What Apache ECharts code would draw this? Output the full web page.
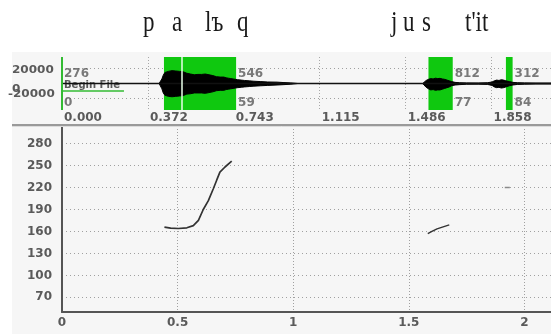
<!DOCTYPE html>
<html><head><meta charset="utf-8">
<script src="https://cdn.jsdelivr.net/npm/echarts@6/dist/echarts.min.js"></script>
<style>html,body{margin:0;padding:0;background:#fff}#c{width:551px;height:334px}</style>
</head><body><div id="c"></div>
<script>
// ---- data ----
const phonLabels = ['p', 'a', 'lъ', 'q', 'j', 'u', 's', "t'it"];
const waveTickValues = [0, 0.3716, 0.7432, 1.1148, 1.4864, 1.858];
const waveTickLabels = ['0.000', '0.372', '0.743', '1.115', '1.486', '1.858'];
const ampTickValues = [-20000, 0, 20000];
const ampTickLabels = ['-20000', '0', '20000'];
const regionStart = [0.441, 1.585, 1.920];
const regionEnd = [0.753, 1.690, 1.949];
const regionDivider = [0.523];
const markTimes = [0, 0.753, 1.690, 1.949];
const markTop = ['276', '546', '812', '312'];
const markBottom = ['0', '59', '77', '84'];
const waveT = [0, 0.42, 0.425, 0.432, 0.438, 0.445, 0.452,
  0.46, 0.468, 0.476, 0.484, 0.492, 0.5, 0.508, 0.516, 0.524, 0.532, 0.54, 0.548, 0.556, 0.564, 0.572, 0.58, 0.588, 0.596, 0.604, 0.612, 0.62, 0.628, 0.636, 0.644, 0.652, 0.66, 0.668, 0.676, 0.684, 0.692, 0.7,
  0.71, 0.72, 0.73, 0.74, 0.75, 0.76, 0.775, 0.79, 0.81, 0.83, 0.86, 0.89, 0.93, 0.96, 0.99, 1.02,
  1.56, 1.566, 1.575, 1.585, 1.595, 1.605, 1.615, 1.625, 1.635, 1.645, 1.655, 1.665, 1.675, 1.685, 1.7, 1.72, 1.75, 1.8, 1.84, 1.86, 1.87, 1.88, 1.89, 1.9, 1.91, 1.92, 1.935, 1.95, 1.97, 2.0, 2.05, 2.115];
const waveHi = [0, 0, 1500, 6000, 11000, 14500, 13000,
  16000, 15000, 17000, 15500, 16500, 14500, 16000, 15000, 15500, 14000, 13500, 12000, 12500, 11000, 11500, 10500, 12000, 13000, 12000, 13500, 12500, 13000, 11500, 12000, 10500, 10000, 9000, 9500, 8500, 8000, 8500,
  7500, 7000, 6500, 6000, 5500, 5000, 4500, 4000, 3500, 3000, 2500, 2000, 1800, 1200, 800, 0,
  0, 1500, 4000, 5500, 6500, 6000, 7000, 6500, 6800, 6000, 5500, 4500, 3500, 2500, 1500, 1000, 800, 700, 1000, 2000, 3500, 4500, 4000, 5000, 4500, 3500, 2500, 1500, 1000, 800, 600, 600];
const waveLo = [0, 0, -1500, -7000, -12500, -15500, -14000,
  -17000, -16000, -17500, -16500, -17000, -15500, -16500, -15500, -16000, -15000, -14000, -13000, -13500, -12000, -12500, -11500, -12500, -13500, -12500, -14000, -13000, -13500, -12000, -12500, -11000, -10500, -9500, -10000, -9000, -8500, -9000,
  -8000, -7500, -7000, -6500, -6000, -5500, -5000, -4500, -4000, -3500, -3000, -2500, -2000, -1500, -900, 0,
  0, -2000, -5000, -7000, -8500, -8000, -9000, -8500, -8500, -7500, -6500, -5500, -4500, -3000, -2000, -1500, -1000, -900, -1200, -2500, -4500, -5500, -5000, -6000, -5500, -4500, -3000, -2000, -1200, -900, -700, -700];
const timeTicks = [0, 0.5, 1, 1.5, 2];
const timeTickLabels = ['0', '0.5', '1', '1.5', '2'];
const hzTicks = [70, 100, 130, 160, 190, 220, 250, 280];
const pitch1T = [0.443, 0.47, 0.503, 0.54, 0.568, 0.59, 0.611, 0.633, 0.654, 0.669, 0.683, 0.705, 0.734];
const pitch1Hz = [166, 164.5, 164, 165, 168, 175, 190, 202, 218, 230, 241, 248, 256];
const pitch2T = [1.582, 1.6, 1.622, 1.645, 1.675];
const pitch2Hz = [157, 160, 163.5, 166, 169];
const pitch3T = [1.915, 1.937];
const pitch3Hz = [220, 220];

// ---- helpers ----
const zip = (a, b) => a.map((v, i) => [v, b[i]]);
const nearestIdx = (arr, v) => { let b = 0; arr.forEach((x, i) => { if (Math.abs(x - v) < Math.abs(arr[b] - v)) b = i; }); return b; };
const FONT = 'DejaVu Sans';
const LBL = '#5a5a5a';
const TMAX = 2.115;
const lbl = { fontFamily: FONT, fontSize: 12, fontWeight: 'bold', color: LBL };

const phonX = [143, 172, 205, 237, 391, 403, 422, 465];
const graphic = [
  { type: 'rect', z: 0, shape: { x: 12, y: 52, width: 539, height: 282 }, style: { fill: '#f6f6f6' } },
  { type: 'line', z: 1, shape: { x1: 12, y1: 125, x2: 551, y2: 125 }, style: { stroke: '#9a9a9a', lineWidth: 2 } },
  { type: 'line', z: 1, shape: { x1: 12, y1: 126.5, x2: 551, y2: 126.5 }, style: { stroke: '#dcdcdc', lineWidth: 1 } },
  { type: 'text', z: 1, x: 64, y: 85, style: { text: 'Begin File', font: 'bold 10px "DejaVu Sans"', fill: '#5a5a5a', verticalAlign: 'middle' } }
];
phonLabels.forEach((t, i) => {
  graphic.push({ type: 'text', z: 5, x: phonX[i], y: 23, scaleY: 1.3,
    style: { text: t, font: '23px "Liberation Serif"', fill: '#1a1a1a', verticalAlign: 'middle' } });
});

const markData = [];
markTimes.forEach((t, i) => {
  markData.push({ value: [t, 12500], label: { formatter: markTop[i] } });
  markData.push({ value: [t, -25700], label: { formatter: markBottom[i] } });
});

const option = {
  animation: false,
  backgroundColor: '#ffffff',
  graphic: graphic,
  grid: [
    { left: 62, right: 0, top: 57, height: 53 },
    { left: 62, right: 0, top: 126, height: 186 }
  ],
  xAxis: [
    { gridIndex: 0, type: 'value', min: 0, max: TMAX,
      axisLine: { show: false }, axisTick: { show: false, customValues: waveTickValues },
      axisLabel: Object.assign({ customValues: waveTickValues, align: 'left', margin: 2, padding: [0, 0, 0, 2],
        formatter: v => waveTickLabels[nearestIdx(waveTickValues, v)] }, lbl),
      splitLine: { show: true, lineStyle: { color: '#a8a8a8', type: [1, 2], width: 1 } } },
    { gridIndex: 1, type: 'value', min: 0, max: TMAX,
      axisLine: { show: true, onZero: false, lineStyle: { color: '#555', width: 2 } },
      axisTick: { show: false, customValues: timeTicks },
      axisLabel: Object.assign({ customValues: timeTicks, margin: 5,
        formatter: v => timeTickLabels[nearestIdx(timeTicks, v)] }, lbl),
      splitLine: { show: true, lineStyle: { color: '#a0a0a0', type: [1, 2], width: 1 } } }
  ],
  yAxis: [
    { gridIndex: 0, type: 'value', min: -35000, max: 35000,
      axisLine: { show: false }, axisTick: { show: false, customValues: ampTickValues },
      axisLabel: { show: false, customValues: ampTickValues },
      splitLine: { show: true, lineStyle: { color: '#a0a0a0', type: [1, 3], width: 1 } } },
    { gridIndex: 1, type: 'value', min: 50, max: 304,
      axisLine: { show: true, lineStyle: { color: '#555', width: 2 } },
      axisTick: { show: false, customValues: hzTicks },
      axisLabel: Object.assign({ customValues: hzTicks, margin: 10 }, lbl),
      splitLine: { show: true, lineStyle: { color: '#a0a0a0', type: [1, 3], width: 1 } } }
  ],
  series: [
    { type: 'line', xAxisIndex: 0, yAxisIndex: 0, z: 1, data: [[0, 0]], showSymbol: false, lineStyle: { width: 0 }, silent: true,
      markArea: { silent: true, itemStyle: { color: '#0fc80f' },
        data: regionStart.map((s, i) => [{ xAxis: s }, { xAxis: regionEnd[i] }]) },
      markLine: { silent: true, symbol: 'none', label: { show: false },
        data: [
          ...regionDivider.map(t => ({ xAxis: t, lineStyle: { color: '#e8ffe8', width: 1.5, type: 'solid' } })),
          { xAxis: 0, lineStyle: { color: '#33bb33', width: 2, type: 'solid' } }
        ] } },
    { type: 'line', xAxisIndex: 0, yAxisIndex: 0, z: 2, data: [[0, -9900], [0.268, -9900]], showSymbol: false,
      lineStyle: { color: '#33bb33', width: 1.5 } },
    { type: 'line', xAxisIndex: 0, yAxisIndex: 0, z: 3, data: zip(waveT, waveHi), showSymbol: false,
      lineStyle: { color: '#000', width: 1 }, areaStyle: { color: '#000', opacity: 1 } },
    { type: 'line', xAxisIndex: 0, yAxisIndex: 0, z: 3, data: zip(waveT, waveLo), showSymbol: false,
      lineStyle: { color: '#000', width: 1 }, areaStyle: { color: '#000', opacity: 1 } },
    { type: 'line', xAxisIndex: 0, yAxisIndex: 0, z: 3, data: [[0.005, 0], [TMAX, 0]], showSymbol: false,
      lineStyle: { color: '#111', width: 1.5 } },
    { type: 'scatter', xAxisIndex: 0, yAxisIndex: 0, z: 4, symbolSize: 0, data: markData,
      label: Object.assign({ show: true, position: 'right', distance: 2 }, lbl) },
    { type: 'line', xAxisIndex: 1, yAxisIndex: 1, data: zip(pitch1T, pitch1Hz), showSymbol: false,
      lineStyle: { color: '#333', width: 1.7 } },
    { type: 'line', xAxisIndex: 1, yAxisIndex: 1, data: zip(pitch2T, pitch2Hz), showSymbol: false,
      lineStyle: { color: '#333', width: 1.4 } },
    { type: 'line', xAxisIndex: 1, yAxisIndex: 1, data: zip(pitch3T, pitch3Hz), showSymbol: false,
      lineStyle: { color: '#8a8a8a', width: 1.5 } }
  ]
};
const chart = echarts.init(document.getElementById('c'), null, { renderer: 'canvas' });
chart.setOption(option);

// amplitude tick labels of the waveform panel (drawn left-aligned, as in the original display)
const ampLabelShift = [-4.6, 5.5, 2.0];
const ampLabelX = [8, 12, 12];
const ampGraphics = ampTickValues.map((v, i) => ({
  type: 'text', z: 5, x: ampLabelX[i], scaleX: 1.2,
  y: chart.convertToPixel({ yAxisIndex: 0 }, v) + ampLabelShift[i],
  style: { text: ampTickLabels[i], font: 'bold 10px "DejaVu Sans"', fill: LBL, verticalAlign: 'middle' }
}));
chart.setOption({ graphic: graphic.concat(ampGraphics) });
</script></body></html>
